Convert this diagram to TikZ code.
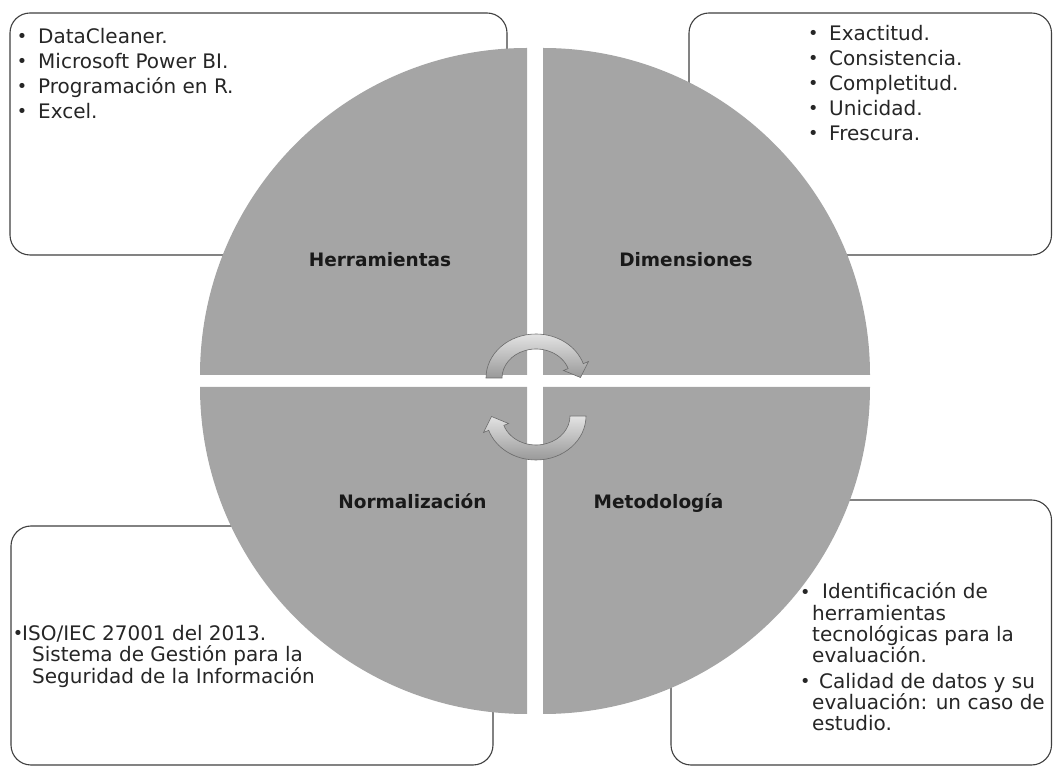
\documentclass[tikz,border=0pt]{standalone}
\usepackage{fontspec}
\usepackage{graphicx}
\setmainfont{DejaVu Sans}
\definecolor{quadgray}{HTML}{A5A5A5}
\definecolor{boxline}{HTML}{404040}
\definecolor{arrowline}{HTML}{6A6A6A}
\newcommand\bl[1]{\makebox[#1][l]{\hspace{-5.2pt}\raisebox{0.8pt}{\scalebox{0.88}{•}}}}
\begin{document}
\begin{tikzpicture}[x=1pt,y=1pt,
  infobox/.style={draw=boxline, line width=1.1pt, fill=white, rounded corners=20pt, inner sep=0pt},
  quadrant/.style={fill=quadgray, draw=none},
  boxtext/.style={anchor=north west, inner sep=0pt, align=left, font=\fontsize{20}{25}\selectfont, text=black!85},
  quadlabel/.style={anchor=base, inner sep=0pt, font=\fontsize{18.5}{22}\selectfont\bfseries, text=black!90},
  cyclearrow/.style={draw=arrowline, line width=0.6pt, top color=gray!22, bottom color=gray!80}]
\useasboundingbox (0,0) rectangle (1053,766);
% boxes
\node[infobox, minimum width=497pt, minimum height=242pt] (boxTL) at (258.5,632) {};
\node[infobox, minimum width=362.5pt, minimum height=242pt] (boxTR) at (870.25,632) {};
\node[infobox, minimum width=482pt, minimum height=239pt] (boxBL) at (252,120.5) {};
\node[infobox, minimum width=380.5pt, minimum height=265pt] (boxBR) at (861.25,133.5) {};
% quadrants
\fill[quadrant] (527,391) -- (527,718) arc[start angle=90,end angle=180,radius=327] -- cycle;
\fill[quadrant] (543,391) -- (870,391) arc[start angle=0,end angle=90,radius=327] -- cycle;
\fill[quadrant] (527,379) -- (200,379) arc[start angle=180,end angle=270,radius=327] -- cycle;
\fill[quadrant] (543,379) -- (543,52) arc[start angle=270,end angle=360,radius=327] -- cycle;
% quadrant labels
\node[quadlabel] (herr) at (380,499) {Herramientas};
\node[quadlabel] (dime) at (686,499) {Dimensiones};
\node[quadlabel] (norm) at (412.5,257) {Normalización};
\node[quadlabel] (meto) at (658.5,257) {Metodología};
% cycle arrows
\path[cyclearrow] (486,388) arc[start angle=180,end angle=19,x radius=50,y radius=44]
  -- (588.5,404.5) -- (580.5,388.5) -- (563.5,395.5) -- (568.15,397.44)
  arc[start angle=19,end angle=180,x radius=34,y radius=29] -- cycle;
\begin{scope}[rotate around={180:(536,369)}]
\path[cyclearrow] (486,388) arc[start angle=180,end angle=19,x radius=50,y radius=44]
  -- (588.5,404.5) -- (580.5,388.5) -- (563.5,395.5) -- (568.15,397.44)
  arc[start angle=19,end angle=180,x radius=34,y radius=29] -- cycle;
\end{scope}
% box texts
\node[boxtext] (tltext) at (22,738.2) {\bl{16pt}DataCleaner.\\\bl{16pt}Microsoft Power BI.\\\bl{16pt}Programación en R.\\\bl{16pt}Excel.};
\node[boxtext] (trtext) at (813,741.2) {\bl{16pt}Exactitud.\\\bl{16pt}Consistencia.\\\bl{16pt}Completitud.\\\bl{16pt}Unicidad.\\\bl{16pt}Frescura.};
\node[boxtext, font=\fontsize{20}{21.5}\selectfont] (bltext) at (18,141.2) {\bl{4pt}ISO/IEC 27001 del 2013.\\\hspace*{14pt}Sistema de Gestión para la\\\hspace*{14pt}Seguridad de la Información};
\node[boxtext, font=\fontsize{20}{21.3}\selectfont] (brtext) at (805,183.2) {\bl{17pt}Identificación de\\\hspace*{7pt}herramientas\\\hspace*{7pt}tecnológicas para la\\\hspace*{7pt}evaluación.\\[4pt]\bl{14pt}Calidad de datos y su\\\hspace*{7pt}evaluación: un caso de\\\hspace*{7pt}estudio.};
\end{tikzpicture}
\end{document}
